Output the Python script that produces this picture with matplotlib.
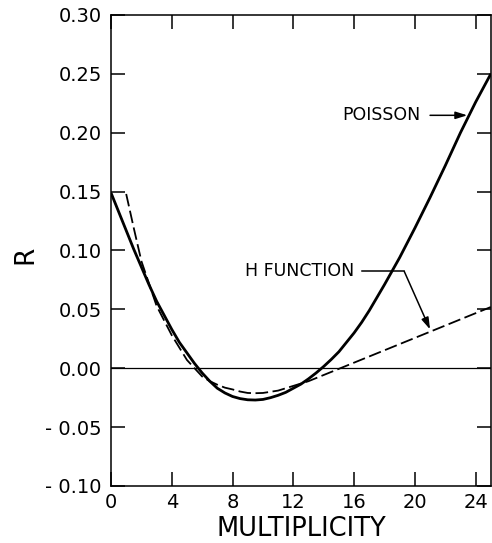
import matplotlib
matplotlib.use("Agg")
import matplotlib.pyplot as plt

# ---- data ----
poisson_x = [0, 0.5, 1, 1.5, 2, 2.5, 3, 3.5, 4, 4.5, 5, 5.5, 6, 6.5, 7, 7.5,
             8, 8.5, 9, 9.5, 10, 10.5, 11, 11.5, 12, 12.5, 13, 13.5, 14, 14.5,
             15, 15.5, 16, 16.5, 17, 17.5, 18, 19, 20, 21, 22, 23, 24, 25]
poisson_r = [0.149, 0.133, 0.117, 0.101, 0.086, 0.071, 0.057, 0.045, 0.033,
             0.022, 0.013, 0.004, -0.004, -0.011, -0.017, -0.021, -0.024,
             -0.0258, -0.0268, -0.027, -0.0265, -0.025, -0.023, -0.0205,
             -0.017, -0.0135, -0.009, -0.004, 0.0015, 0.0075, 0.014, 0.022,
             0.030, 0.039, 0.049, 0.060, 0.071, 0.094, 0.119, 0.145, 0.172,
             0.200, 0.226, 0.250]

hfunc_x = [1, 1.5, 2, 3, 4, 5, 5.5, 6, 6.5, 7, 7.5, 8, 8.5, 9, 9.5, 10, 10.5,
           11, 11.5, 12, 12.5, 13, 25]
hfunc_r = [0.148, 0.119, 0.091, 0.053, 0.028, 0.007, 0.000, -0.007, -0.011,
           -0.014, -0.0165, -0.018, -0.0198, -0.021, -0.0212, -0.021, -0.020,
           -0.019, -0.017, -0.015, -0.013, -0.011, 0.052]

x_ticks = [0, 4, 8, 12, 16, 20, 24]
y_ticks = [-0.10, -0.05, 0.00, 0.05, 0.10, 0.15, 0.20, 0.25, 0.30]
y_tick_labels = ["- 0.10", "- 0.05", "0.00", "0.05", "0.10", "0.15", "0.20",
                 "0.25", "0.30"]

plt.rcParams["font.family"] = ["DejaVu Sans"]

fig = plt.figure(figsize=(4.92, 5.43), dpi=100)
ax = fig.add_axes([0.2256, 0.105, 0.772, 0.8674])

ax.axhline(0, color="black", lw=0.9, zorder=1)
ax.plot(poisson_x, poisson_r, color="black", lw=2.0, solid_capstyle="butt",
        solid_joinstyle="round", zorder=3)
ax.plot(hfunc_x, hfunc_r, color="black", lw=1.3, dashes=(7, 2.5), zorder=3)

ax.set_xlim(0, 25)
ax.set_ylim(-0.10, 0.30)
ax.set_xticks(x_ticks)
ax.set_yticks(y_ticks)
ax.set_yticklabels(y_tick_labels)

ax.tick_params(axis="both", which="major", direction="in", length=10, width=1.1,
               top=True, right=True, labelsize=14, color="black")
ax.tick_params(axis="y", pad=6.5)
ax.tick_params(axis="x", pad=5)
for sp in ax.spines.values():
    sp.set_linewidth(1.1)

ax.set_xlabel("MULTIPLICITY", fontsize=18.5, labelpad=3)
ax.set_ylabel("R", fontsize=19, labelpad=6)
ax.yaxis.set_label_coords(-0.19, 0.49)

# annotations
ax.text(15.2, 0.2148, "POISSON", fontsize=12.5, ha="left", va="center")
ax.annotate("", xy=(23.45, 0.2148), xytext=(21.0, 0.2148),
            arrowprops=dict(arrowstyle="-|>,head_length=0.7,head_width=0.22",
                            color="black", lw=1.1, shrinkA=0, shrinkB=0))

ax.text(8.8, 0.0823, "H FUNCTION", fontsize=12.5, ha="left", va="center")
ax.plot([16.5, 19.3], [0.0823, 0.0823], color="black", lw=1.1)
ax.annotate("", xy=(21.0, 0.033), xytext=(19.3, 0.0823),
            arrowprops=dict(arrowstyle="-|>,head_length=0.7,head_width=0.22",
                            color="black", lw=1.1, shrinkA=0, shrinkB=0))

fig.savefig("out.png", dpi=100)
